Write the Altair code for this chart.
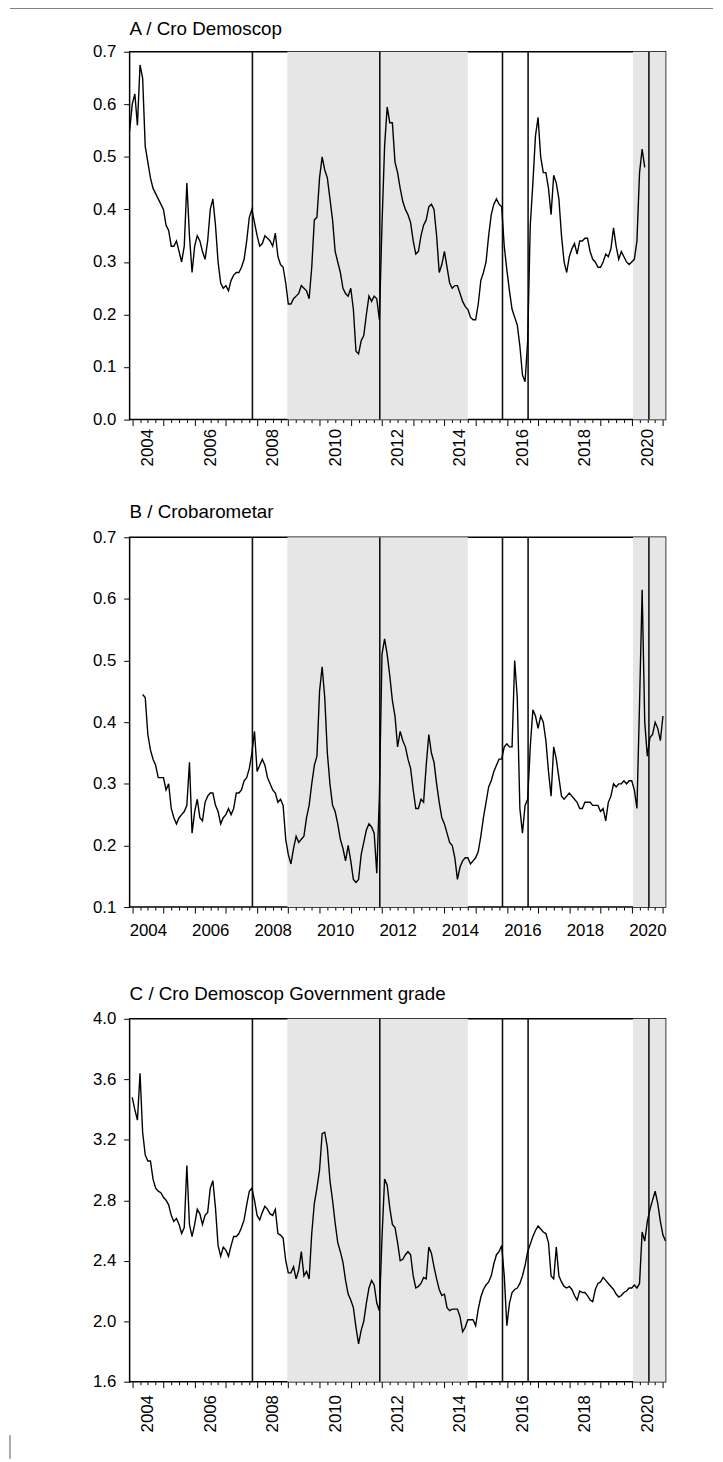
import altair as alt
import pandas as pd

FONT = "Liberation Sans"

# x range of all three panels (decimal years): Dec 2003 .. Feb 2021
X_MIN = 2003 + 11 / 12
X_MAX = 2021 + 1 / 12

# events (vertical lines) and shaded periods, in decimal years
election_times = [2007.85, 2011.93, 2015.86, 2016.68, 2020.55]
shade_from = [2008.97, 2020.04]
shade_to = [2014.75, 2021.0833]

# quarterly tick positions; labels shown at mid-year of even years
quarter_ticks = [y + q / 4 for y in range(2004, 2021) for q in range(4)] + [2021.0]

# ---- Panel A: Cro Demoscop (monthly, from Dec 2003) ----
a_start = (2003, 12)
a_values = [
    0.55, 0.60, 0.62, 0.56, 0.675, 0.65, 0.52, 0.49, 0.46, 0.44,
    0.43, 0.42, 0.41, 0.40, 0.37, 0.36, 0.33, 0.33, 0.34, 0.32,
    0.30, 0.33, 0.45, 0.35, 0.28, 0.33, 0.35, 0.34, 0.32, 0.305,
    0.34, 0.40, 0.42, 0.37, 0.30, 0.26, 0.25, 0.255, 0.245, 0.265,
    0.275, 0.28, 0.28, 0.29, 0.305, 0.34, 0.385, 0.40, 0.375, 0.35,
    0.33, 0.335, 0.35, 0.345, 0.34, 0.33, 0.355, 0.31, 0.295, 0.29,
    0.26, 0.22, 0.22, 0.23, 0.235, 0.24, 0.255, 0.25, 0.245, 0.23,
    0.29, 0.38, 0.385, 0.46, 0.50, 0.475, 0.46, 0.42, 0.38, 0.32,
    0.30, 0.28, 0.25, 0.24, 0.235, 0.25, 0.21, 0.13, 0.125, 0.15,
    0.16, 0.20, 0.235, 0.225, 0.235, 0.23, 0.19, 0.37, 0.52, 0.595,
    0.565, 0.565, 0.49, 0.47, 0.44, 0.415, 0.40, 0.39, 0.375, 0.34,
    0.315, 0.32, 0.35, 0.37, 0.38, 0.405, 0.41, 0.40, 0.35, 0.28,
    0.295, 0.32, 0.29, 0.26, 0.25, 0.255, 0.255, 0.24, 0.225, 0.215,
    0.21, 0.195, 0.19, 0.19, 0.22, 0.265, 0.28, 0.30, 0.35, 0.39,
    0.41, 0.42, 0.41, 0.405, 0.33, 0.285, 0.245, 0.21, 0.195, 0.18,
    0.14, 0.085, 0.072, 0.15, 0.37, 0.45, 0.54, 0.575, 0.50, 0.47,
    0.47, 0.44, 0.39, 0.465, 0.45, 0.42, 0.35, 0.30, 0.28, 0.31,
    0.325, 0.335, 0.315, 0.34, 0.34, 0.345, 0.345, 0.32, 0.305, 0.30,
    0.29, 0.29, 0.30, 0.315, 0.31, 0.325, 0.365, 0.33, 0.305, 0.32,
    0.31, 0.30, 0.295, 0.30, 0.305, 0.34, 0.47, 0.515, 0.48,
]

# ---- Panel B: Crobarometar (monthly, from May 2004) ----
b_start = (2004, 5)
b_values = [
    0.445, 0.44, 0.38, 0.355, 0.34,
    0.33, 0.31, 0.31, 0.31, 0.29, 0.30, 0.26, 0.245, 0.235, 0.245,
    0.25, 0.255, 0.265, 0.335, 0.22, 0.255, 0.275, 0.245, 0.24, 0.27,
    0.28, 0.285, 0.285, 0.265, 0.255, 0.235, 0.245, 0.25, 0.26, 0.25,
    0.26, 0.285, 0.285, 0.29, 0.305, 0.31, 0.325, 0.35, 0.385, 0.32,
    0.33, 0.34, 0.33, 0.31, 0.30, 0.29, 0.285, 0.27, 0.275, 0.265,
    0.21, 0.185, 0.17, 0.195, 0.215, 0.205, 0.21, 0.215, 0.245, 0.265,
    0.30, 0.33, 0.345, 0.45, 0.49, 0.44, 0.35, 0.30, 0.265, 0.255,
    0.235, 0.21, 0.195, 0.175, 0.20, 0.175, 0.145, 0.14, 0.145, 0.185,
    0.205, 0.225, 0.235, 0.23, 0.22, 0.155, 0.28, 0.51, 0.535, 0.51,
    0.475, 0.435, 0.41, 0.36, 0.385, 0.37, 0.36, 0.34, 0.325, 0.29,
    0.26, 0.26, 0.275, 0.27, 0.33, 0.38, 0.35, 0.335, 0.30, 0.27,
    0.245, 0.235, 0.22, 0.205, 0.20, 0.18, 0.145, 0.165, 0.175, 0.18,
    0.18, 0.17, 0.175, 0.18, 0.19, 0.215, 0.245, 0.27, 0.295, 0.305,
    0.32, 0.33, 0.34, 0.34, 0.36, 0.365, 0.36, 0.36, 0.50, 0.44,
    0.26, 0.22, 0.265, 0.275, 0.36, 0.42, 0.41, 0.39, 0.41, 0.40,
    0.37, 0.32, 0.28, 0.36, 0.34, 0.31, 0.28, 0.275, 0.28, 0.285,
    0.28, 0.275, 0.27, 0.26, 0.26, 0.27, 0.27, 0.27, 0.265, 0.265,
    0.265, 0.255, 0.26, 0.24, 0.27, 0.28, 0.30, 0.295, 0.30, 0.30,
    0.305, 0.30, 0.305, 0.305, 0.29, 0.26, 0.43, 0.615, 0.40, 0.345,
    0.375, 0.38, 0.40, 0.39, 0.37, 0.41,
]

# ---- Panel C: Cro Demoscop Government grade (monthly, from Jan 2004) ----
c_start = (2004, 1)
c_values = [
    3.48, 3.40, 3.33, 3.64, 3.25, 3.10, 3.06, 3.06, 2.94,
    2.88, 2.86, 2.85, 2.82, 2.80, 2.77, 2.70, 2.66, 2.68, 2.64,
    2.58, 2.62, 3.03, 2.64, 2.56, 2.64, 2.74, 2.71, 2.64, 2.70,
    2.72, 2.88, 2.93, 2.75, 2.50, 2.43, 2.49, 2.47, 2.43, 2.50,
    2.56, 2.56, 2.58, 2.62, 2.67, 2.77, 2.86, 2.88, 2.80, 2.70,
    2.67, 2.72, 2.76, 2.74, 2.71, 2.70, 2.74, 2.58, 2.57, 2.55,
    2.40, 2.32, 2.32, 2.36, 2.28, 2.34, 2.46, 2.30, 2.33, 2.28,
    2.58, 2.78, 2.88, 3.00, 3.24, 3.25, 3.15, 2.93, 2.80, 2.65,
    2.52, 2.46, 2.39, 2.27, 2.18, 2.14, 2.09, 1.96, 1.85, 1.94,
    2.00, 2.12, 2.22, 2.27, 2.24, 2.12, 2.07, 2.55, 2.94, 2.90,
    2.75, 2.64, 2.62, 2.52, 2.40, 2.41, 2.44, 2.46, 2.44, 2.30,
    2.22, 2.23, 2.25, 2.29, 2.28, 2.49, 2.45, 2.36, 2.28, 2.21,
    2.17, 2.18, 2.09, 2.07, 2.08, 2.08, 2.08, 2.03, 1.93, 1.96,
    2.01, 2.01, 2.01, 1.97, 2.08, 2.16, 2.21, 2.24, 2.26, 2.30,
    2.38, 2.44, 2.46, 2.50, 2.30, 1.97, 2.12, 2.19, 2.21, 2.22,
    2.25, 2.30, 2.37, 2.46, 2.51, 2.56, 2.60, 2.63, 2.61, 2.59,
    2.58, 2.52, 2.30, 2.28, 2.49, 2.30, 2.26, 2.23, 2.22, 2.23,
    2.21, 2.17, 2.14, 2.20, 2.19, 2.19, 2.17, 2.14, 2.13, 2.21,
    2.25, 2.26, 2.29, 2.27, 2.25, 2.23, 2.21, 2.18, 2.16, 2.17,
    2.19, 2.20, 2.22, 2.22, 2.24, 2.22, 2.25, 2.59, 2.53, 2.66,
    2.74, 2.80, 2.86, 2.78, 2.66, 2.57, 2.53,
]

a_yticks = [0.0, 0.1, 0.2, 0.3, 0.4, 0.5, 0.6, 0.7]
b_yticks = [0.1, 0.2, 0.3, 0.4, 0.5, 0.6, 0.7]
c_yticks = [1.6, 2.0, 2.4, 2.8, 3.2, 3.6, 4.0]

BORDER = "#555555"


def month_times(start, n):
    base = start[0] + (start[1] - 1) / 12
    return [base + i / 12 for i in range(n)]


def panel(title, start, values, ydomain, yticks, height, rotated,
          xlabel_pad, title_offset):
    df = pd.DataFrame({"t": month_times(start, len(values)), "v": values})
    xs = alt.Scale(domain=[X_MIN, X_MAX], nice=False, zero=False)
    ys = alt.Scale(domain=ydomain, nice=False, zero=False)

    if rotated:
        lab = dict(labelAngle=270, labelAlign="right", labelBaseline="middle")
    else:
        lab = dict(labelAngle=0, labelAlign="center", labelBaseline="top")

    xaxis = alt.Axis(
        values=quarter_ticks,
        labelExpr="datum.value % 2 == 0.5 ? floor(datum.value) : ''",
        tickSize={"condition": {"test": "datum.value % 1 == 0", "value": 6}, "value": 3},
        labelPadding=xlabel_pad,
        labelOverlap=False,
        labelBound=False,
        labelFlush=False,
        title=None,
        **lab,
    )
    yaxis = alt.Axis(values=yticks, format=".1f", tickSize=6,
                     labelPadding=8, title=None)

    shade = alt.Chart(pd.DataFrame({"a": shade_from, "b": shade_to})).mark_rect(
        color="#e6e6e6"
    ).encode(x=alt.X("a:Q", scale=xs, axis=xaxis), x2="b:Q")

    rules = alt.Chart(pd.DataFrame({"e": election_times})).mark_rule(
        color="#111111", strokeWidth=1.6
    ).encode(x=alt.X("e:Q", scale=xs, axis=xaxis))

    line = alt.Chart(df).mark_line(color="black", strokeWidth=1.4).encode(
        x=alt.X("t:Q", scale=xs, axis=xaxis),
        y=alt.Y("v:Q", scale=ys, axis=yaxis),
    )

    return alt.layer(shade, rules, line).properties(
        width=542,
        height=height,
        title=alt.TitleParams(title, anchor="start", frame="group",
                              offset=title_offset),
    )


# page frame: top border line and the start of the left border at the bottom
one_row = pd.DataFrame({"k": [0]})
top_border = alt.Chart(one_row).mark_rule(color=BORDER, strokeWidth=1).encode(
    x=alt.value(-121), x2=alt.value(590), y=alt.value(0)
).properties(width=542, height=1, view=alt.ViewConfig(stroke="transparent"))

bottom_border = alt.Chart(one_row).mark_rule(color=BORDER, strokeWidth=1).encode(
    x=alt.value(-121), y=alt.value(0), y2=alt.value(24)
).properties(width=542, height=1, view=alt.ViewConfig(stroke="transparent"))

pa = panel("A / Cro Demoscop", a_start, a_values, [0.0, 0.7], a_yticks,
           372, True, 6, 4)
pb = panel("B / Crobarometar", b_start, b_values, [0.1, 0.7], b_yticks,
           374, False, 13, 6)
pc = panel("C / Cro Demoscop Government grade", c_start, c_values, [1.6, 4.0],
           c_yticks, 367, True, 10, 6)

chart = alt.vconcat(
    alt.vconcat(
        alt.vconcat(
            alt.vconcat(top_border, pa, spacing=9),
            pb, spacing=36),
        pc, spacing=42),
    bottom_border, spacing=0,
).properties(
    padding={"left": 0, "top": -10, "right": 0, "bottom": 0}
).configure_view(
    stroke="black", strokeWidth=1.5
).configure_axis(
    labelFont=FONT, labelFontSize=17, labelColor="black",
    tickColor="black", tickWidth=1, domain=False, grid=False,
).configure_title(
    font=FONT, fontSize=19, fontWeight="normal", color="black"
)

chart.save("out.html", embed_options={"renderer": "svg", "actions": False})
